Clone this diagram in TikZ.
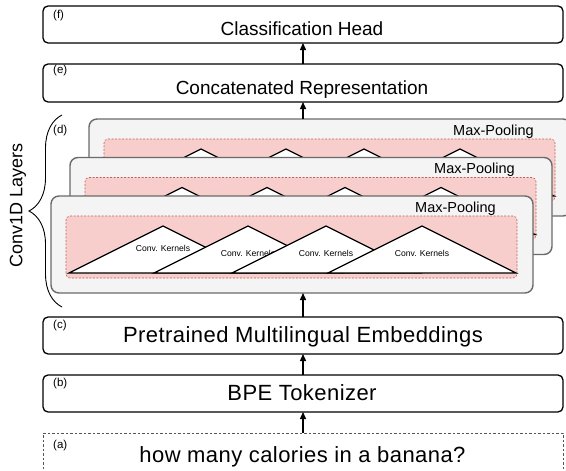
\documentclass[tikz,border=0pt]{standalone}
\usepackage{fontspec}
\setmainfont{Liberation Sans}
\newfontfamily\widefont[LetterSpace=2]{Liberation Sans}
\usetikzlibrary{arrows.meta,decorations.pathreplacing}
\definecolor{pinkfill}{HTML}{F8CECC}
\definecolor{pinkline}{HTML}{C0605C}
\definecolor{layerfill}{HTML}{F4F4F4}
\definecolor{layerline}{HTML}{6A6A6A}
\definecolor{dashgray}{HTML}{555555}
\begin{document}
\begin{tikzpicture}[x=1pt,y=-1pt,
  box/.style={draw=black, line width=1.3pt, rounded corners=5pt, fill=white,
    minimum width=520pt, inner sep=0pt, outer sep=0pt},
  inbox/.style={draw=dashgray, line width=0.7pt, dash pattern=on 2.5pt off 2pt,
    minimum width=520pt, inner sep=0pt, outer sep=0pt},
  bigtxt/.style={anchor=base, inner sep=0pt, font=\widefont\fontsize{22}{26}\selectfont},
  midtxt/.style={anchor=base, inner sep=0pt, font=\fontsize{19}{22}\selectfont},
  lbl/.style={anchor=west, inner sep=0pt, font=\fontsize{11.5}{13}\selectfont},
  layerbox/.style={draw=layerline, fill=layerfill, line width=1.4pt, rounded corners=8pt,
    minimum width=482pt, minimum height=97pt, anchor=north west, inner sep=0pt, outer sep=0pt},
  pinkbox/.style={draw=pinkline, fill=pinkfill, line width=0.6pt, dash pattern=on 2pt off 1.5pt,
    rounded corners=4pt, minimum width=451pt, minimum height=62pt, anchor=north west,
    inner sep=0pt, outer sep=0pt},
  tri/.style={draw=black, fill=white, line width=1.2pt},
  kern/.style={inner sep=0pt, font=\fontsize{8.6}{10}\selectfont},
  pooltxt/.style={anchor=base east, inner sep=0pt, font=\fontsize{14.5}{17}\selectfont},
  arr/.style={line width=1.3pt, -{Triangle[length=7pt,width=6pt]}}
]
\useasboundingbox (0,0) rectangle (566,471);
\clip (0,0) rectangle (566,471);

% top boxes
\node[box, minimum height=37pt] (f) at (303,24.5) {};
\node[midtxt] (ft) at (302,35.7) {Classification Head};
\node[lbl] (fl) at (53,16) {(f)};

\node[box, minimum height=38pt] (e) at (303,83) {};
\node[midtxt] (et) at (302,94.3) {Concatenated Representation};
\node[lbl] (el) at (53,71) {(e)};

% conv layers
\foreach \i/\dx/\dy in {3/38/-77, 2/19/-38.5, 1/0/0} {
  \begin{scope}[shift={(\dx,\dy)}]
    \node[layerbox] (L\i) at (51,196) {};
    \node[pinkbox] (P\i) at (66,216) {};
    \foreach \ax/\ly in {112/52, 197/57, 275/57, 371/57} {
      \filldraw[tri] (51+\ax-94,273) -- (51+\ax,226) -- (51+\ax+94,273) -- cycle;
      \node[kern] (K\i-\ax) at (51+\ax,196+\ly) {Conv. Kernels};
    }
    \node[pooltxt] (M\i) at (496,212) {Max-Pooling};
  \end{scope}
}
\node[lbl] (dl) at (53,131) {(d)};
\draw[decorate, decoration={brace, amplitude=33pt}, line width=0.9pt] (62,307) -- (62,115);
\node[rotate=90, inner sep=0pt, font=\fontsize{18}{21}\selectfont] (cl) at (18,205) {Conv1D Layers};

% lower boxes
\node[box, minimum height=37pt] (c) at (303,335.5) {};
\node[bigtxt] (ct) at (303,342) {Pretrained Multilingual Embeddings};
\node[lbl] (cll) at (53,326) {(c)};

\node[box, minimum height=37pt] (b) at (303,393.5) {};
\node[bigtxt] (bt) at (302,400) {BPE Tokenizer};
\node[lbl] (bl) at (53,384) {(b)};

\node[inbox, minimum height=47pt] (a) at (303,456.5) {};
\node[bigtxt] (at) at (302.5,462) {how many calories in a banana?};
\node[lbl] (al) at (53,446) {(a)};

% arrows
\draw[arr] (a.north) -- (b.south);
\draw[arr] (b.north) -- (c.south);
\draw[arr] (c.north) -- (c.north |- L1.south);
\draw[arr] (e.south |- L3.north) -- (e.south);
\draw[arr] (e.north) -- (f.south);
\end{tikzpicture}
\end{document}
